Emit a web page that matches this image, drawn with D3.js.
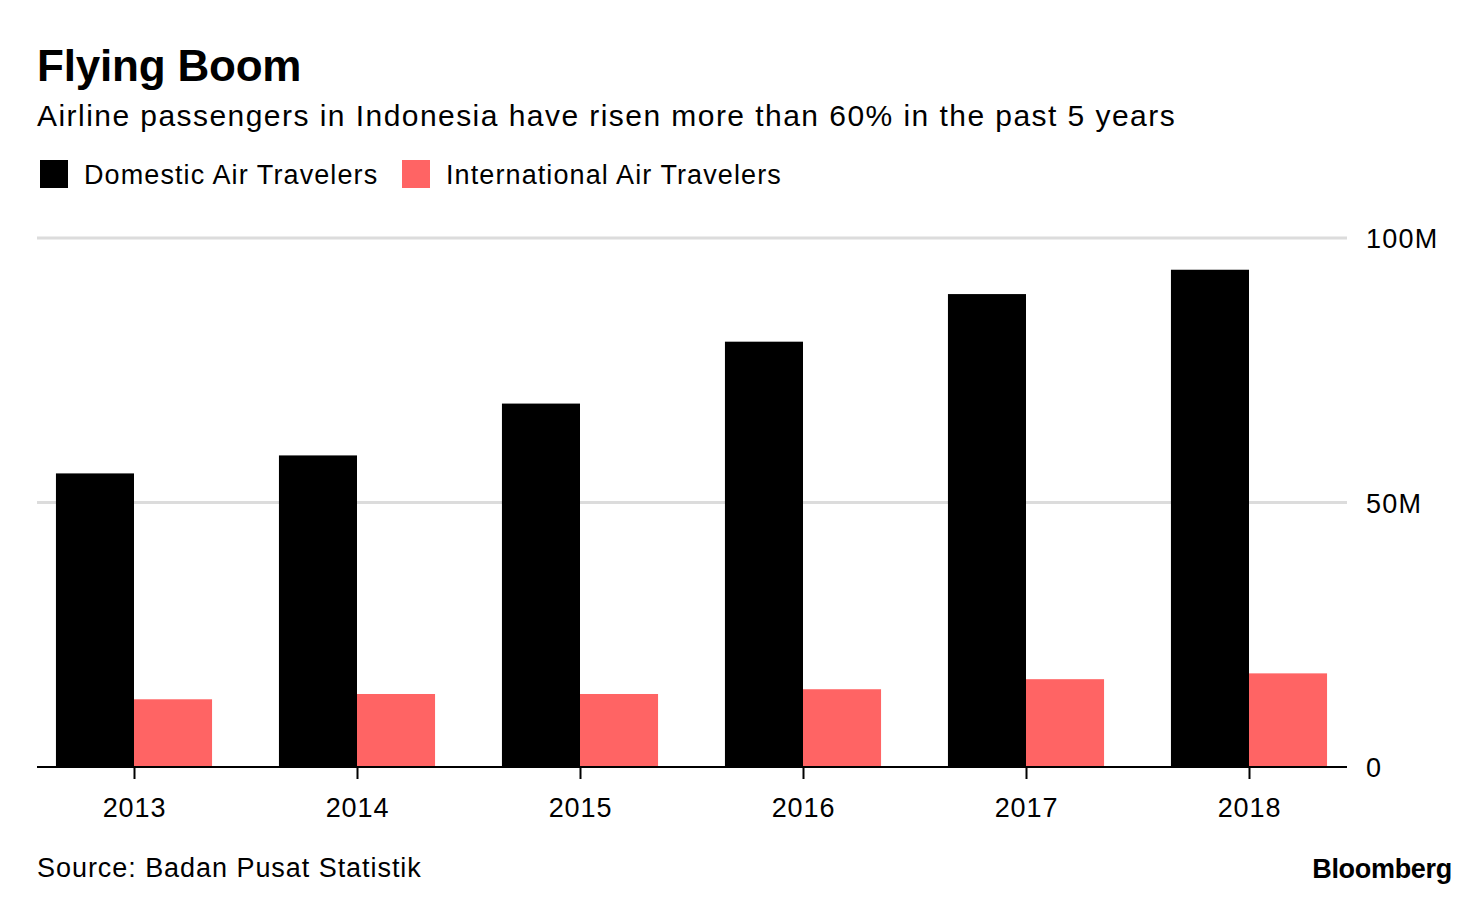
<!DOCTYPE html>
<html>
<head>
<meta charset="utf-8">
<script src="https://cdn.jsdelivr.net/npm/d3@7"></script>
<style>
    body { margin: 0; background: #fff; }
    svg text { font-family: "Liberation Sans", Arial, sans-serif; fill: #000; }
</style>
</head>
<body>
<div id="chart"></div>
<script>
(function() {
    var years = ["2013", "2014", "2015", "2016", "2017", "2018"];
    var domestic = [55.5, 58.9, 68.7, 80.4, 89.4, 94.0];
    var international = [12.8, 13.8, 13.8, 14.7, 16.6, 17.7];
    var seriesNames = ["Domestic Air Travelers", "International Air Travelers"];
    var seriesColors = ["#000000", "#ff6464"];
    var yTicks = [0, 50, 100];

    var width = 1480, height = 900;
    var plotLeft = 37, plotRight = 1347, plotTop = 238, plotBottom = 767;

    var svg = d3.select("#chart").append("svg")
        .attr("width", width)
        .attr("height", height);

    // titles
    svg.append("text")
        .attr("x", 37).attr("y", 81)
        .style("font-size", "44px").style("font-weight", "bold")
        .style("letter-spacing", "-0.2px")
        .text("Flying Boom");

    svg.append("text")
        .attr("x", 37).attr("y", 126)
        .style("font-size", "30px")
        .style("letter-spacing", "1.45px")
        .text("Airline passengers in Indonesia have risen more than 60% in the past 5 years");

    // legend
    var legendX = [40, 402];
    seriesNames.forEach(function(name, i) {
        svg.append("rect")
            .attr("x", legendX[i]).attr("y", 160)
            .attr("width", 28).attr("height", 28)
            .attr("fill", seriesColors[i]);
        svg.append("text")
            .attr("x", legendX[i] + 44).attr("y", 184)
            .style("font-size", "27px")
            .style("letter-spacing", "1.1px")
            .text(name);
    });

    // scales
    var x0 = d3.scaleBand()
        .domain(years)
        .range([22.5, 1360.5])
        .paddingInner(0.3)
        .paddingOuter(0.15);

    var x1 = d3.scaleBand()
        .domain([0, 1])
        .range([0, x0.bandwidth()]);

    var y = d3.scaleLinear()
        .domain([0, 100])
        .range([plotBottom, plotTop]);

    // gridlines
    svg.append("g")
        .selectAll("line")
        .data(yTicks.filter(function(d) { return d > 0; }))
        .enter().append("line")
        .attr("x1", plotLeft).attr("x2", plotRight)
        .attr("y1", function(d) { return y(d); })
        .attr("y2", function(d) { return y(d); })
        .attr("stroke", "#dcdcdc")
        .attr("stroke-width", 3);

    // y labels
    svg.append("g")
        .selectAll("text")
        .data(yTicks)
        .enter().append("text")
        .attr("x", 1366)
        .attr("y", function(d) { return y(d) + 10; })
        .style("font-size", "27px")
        .style("letter-spacing", "1.2px")
        .text(function(d) { return d === 0 ? "0" : d + "M"; });

    // bars
    var data = years.map(function(yr, i) { return {year: yr, values: [domestic[i], international[i]]}; });

    var group = svg.append("g").selectAll("g")
        .data(data)
        .enter().append("g")
        .attr("transform", function(d) { return "translate(" + x0(d.year) + ",0)"; });

    group.selectAll("rect")
        .data(function(d) { return d.values.map(function(v, i) { return {i: i, v: v}; }); })
        .enter().append("rect")
        .attr("x", function(d) { return x1(d.i); })
        .attr("width", x1.bandwidth())
        .attr("y", function(d) { return y(d.v); })
        .attr("height", function(d) { return y(0) - y(d.v); })
        .attr("fill", function(d) { return seriesColors[d.i]; });

    // x axis
    svg.append("line")
        .attr("x1", plotLeft).attr("x2", plotRight)
        .attr("y1", plotBottom).attr("y2", plotBottom)
        .attr("stroke", "#000").attr("stroke-width", 2);

    var xAxis = svg.append("g")
        .attr("transform", "translate(0," + plotBottom + ")")
        .call(d3.axisBottom(d3.scalePoint().domain(years).range([x0(years[0]) + x0.bandwidth() / 2, x0(years[5]) + x0.bandwidth() / 2]))
            .tickSize(12).tickPadding(19));
    xAxis.select(".domain").remove();
    xAxis.selectAll(".tick line").attr("stroke", "#000").attr("stroke-width", 2);
    xAxis.selectAll(".tick text")
        .style("font-size", "27px")
        .style("letter-spacing", "0.9px")
        .style("font-family", "'Liberation Sans', Arial, sans-serif")
        .attr("fill", "#000");

    // footer
    svg.append("text")
        .attr("x", 37).attr("y", 877)
        .style("font-size", "27px")
        .style("letter-spacing", "0.95px")
        .text("Source: Badan Pusat Statistik");

    svg.append("text")
        .attr("x", 1452).attr("y", 878)
        .attr("text-anchor", "end")
        .style("font-size", "27px").style("font-weight", "bold")
        .style("letter-spacing", "-0.3px")
        .text("Bloomberg");
})();
</script>
</body>
</html>
